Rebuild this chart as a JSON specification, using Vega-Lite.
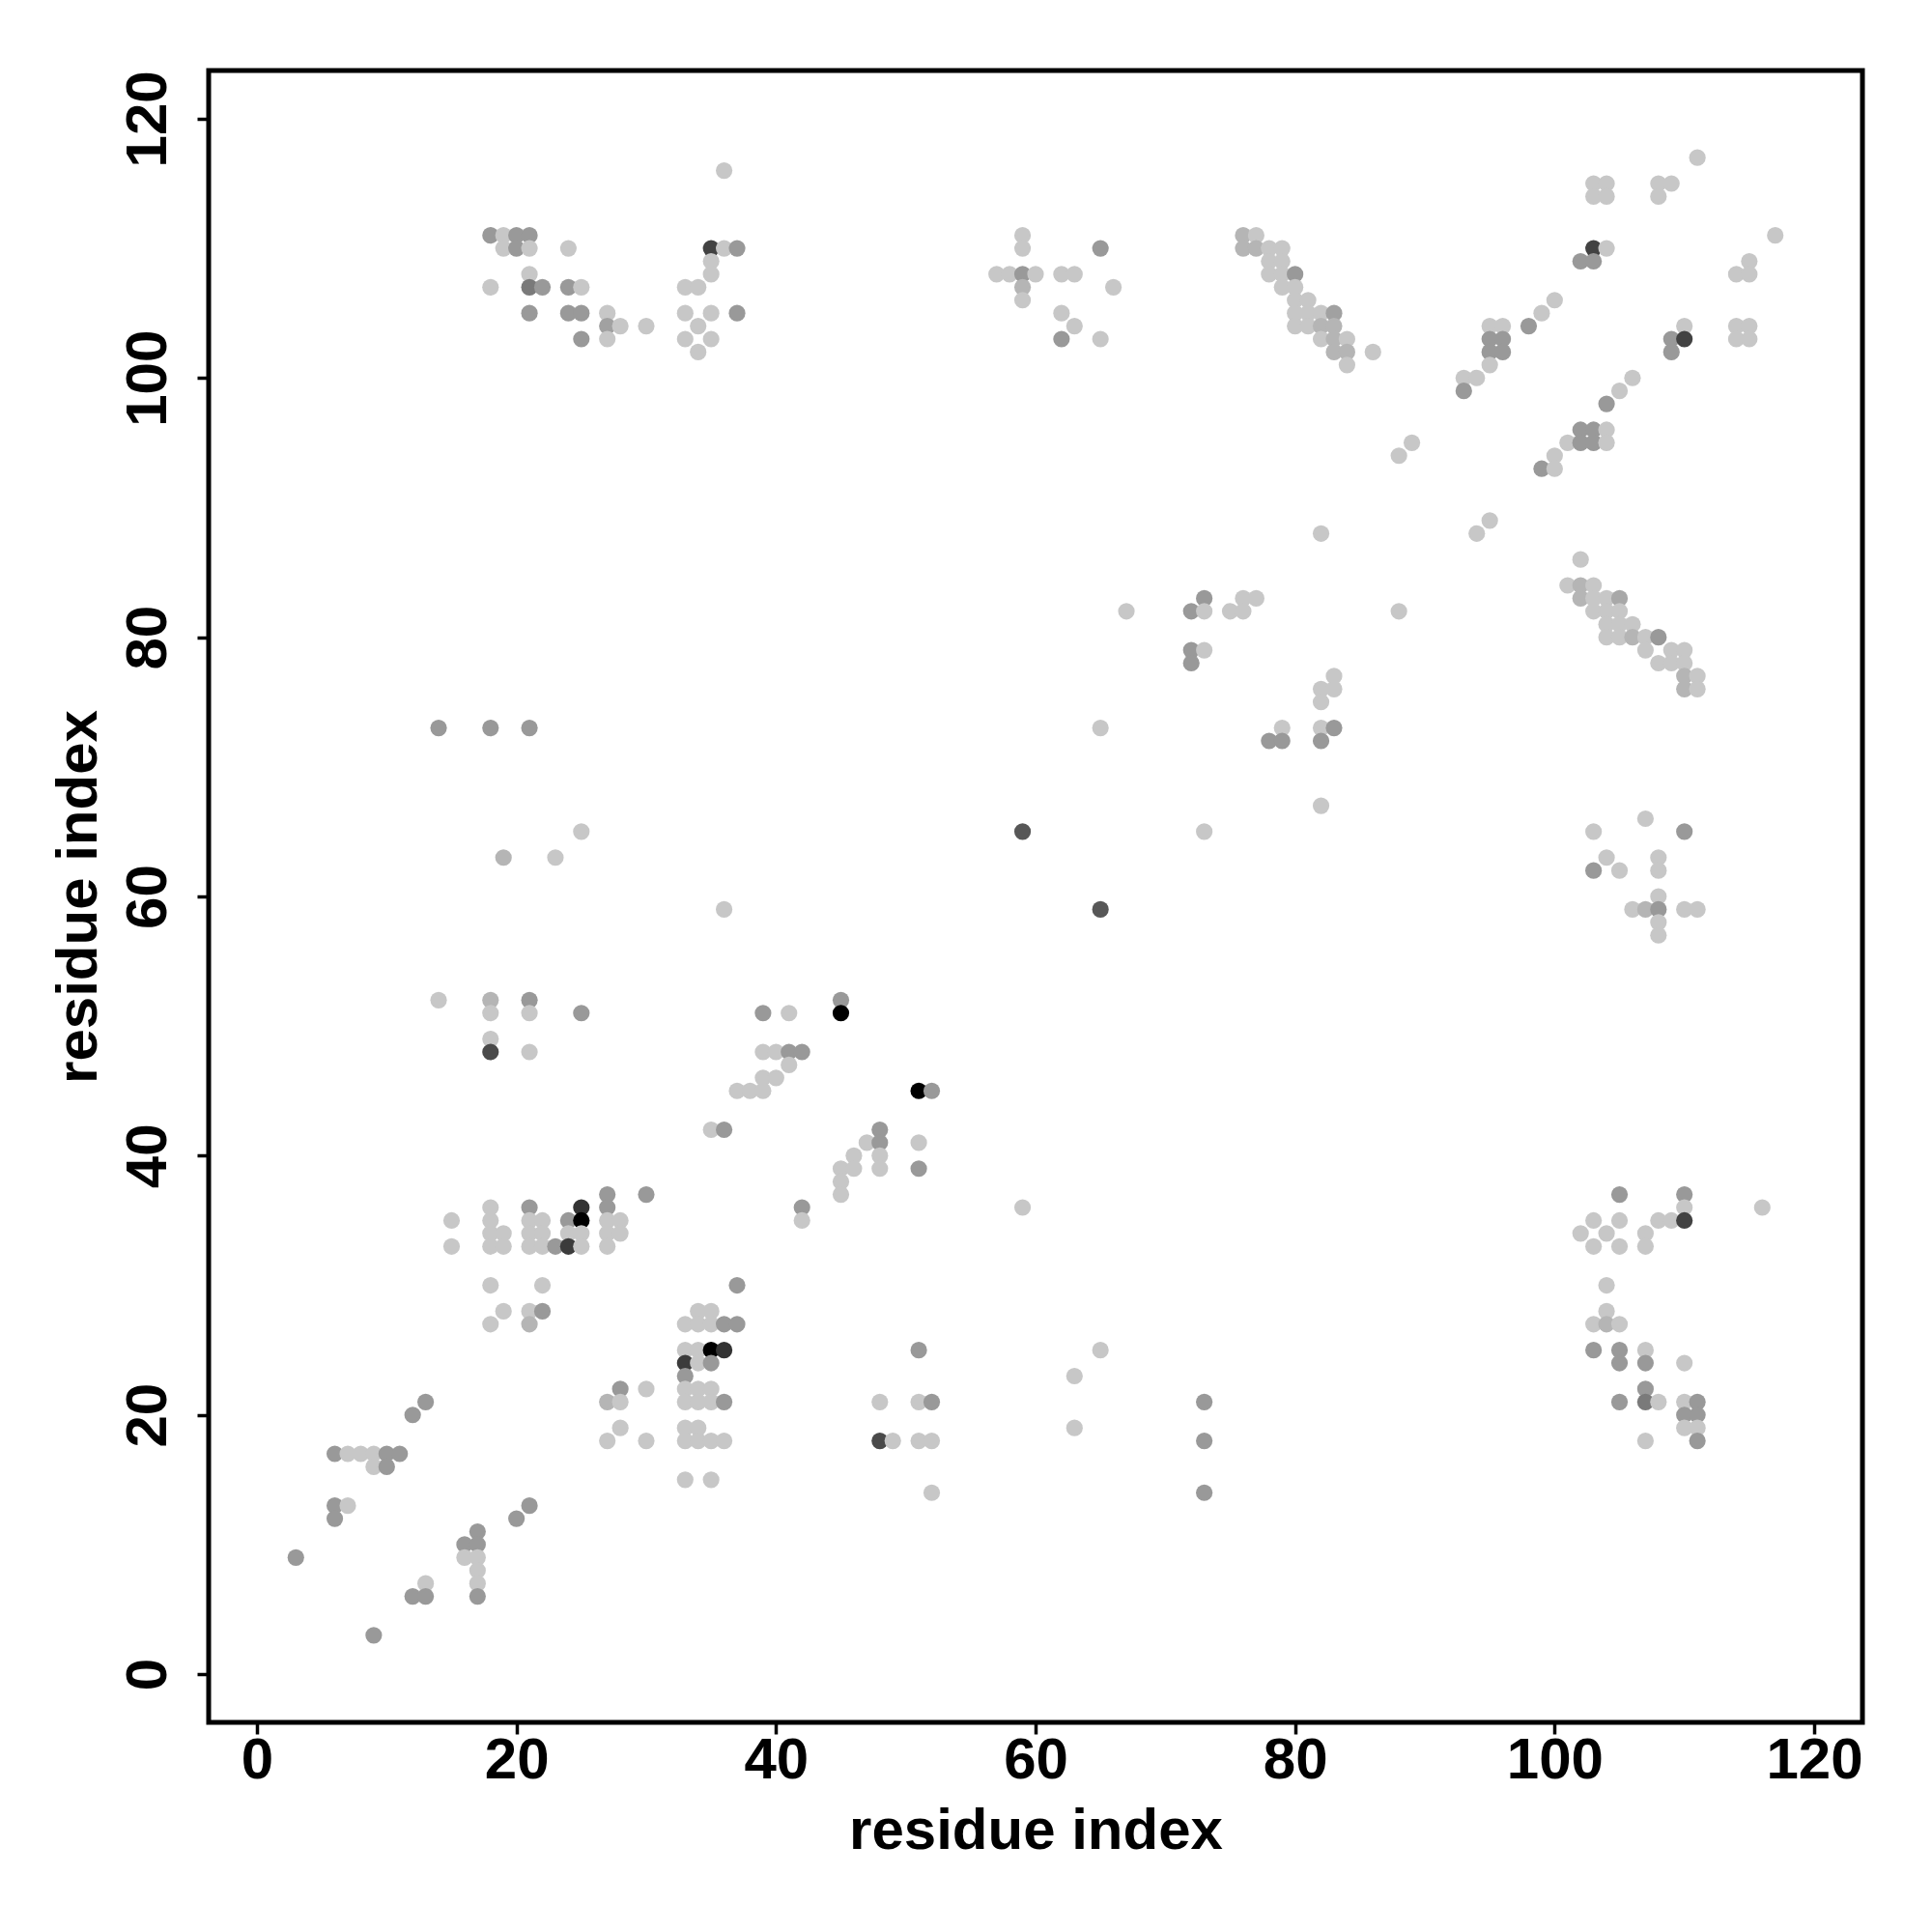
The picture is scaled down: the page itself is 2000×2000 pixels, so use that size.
{
  "$schema": "https://vega.github.io/schema/vega-lite/v6.json",
  "autosize": "none",
  "width": 1712,
  "height": 1710,
  "padding": {"left": 216, "top": 73, "right": 72, "bottom": 217},
  "background": "white",
  "config": {
    "view": {"stroke": "black", "strokeWidth": 5},
    "font": "Liberation Sans"
  },
  "data": {
    "values": [
      {"i":3,"j":9,"p":0.4},{"i":6,"j":17,"p":0.4},{"i":6,"j":13,"p":0.4},{"i":6,"j":12,"p":0.4},
      {"i":7,"j":17,"p":0.22},{"i":7,"j":13,"p":0.22},{"i":8,"j":17,"p":0.22},{"i":9,"j":17,"p":0.22},{"i":9,"j":16,"p":0.22},{"i":9,"j":3,"p":0.4},
      {"i":10,"j":17,"p":0.4},{"i":10,"j":16,"p":0.4},{"i":11,"j":17,"p":0.4},{"i":12,"j":20,"p":0.4},{"i":12,"j":6,"p":0.4},
      {"i":13,"j":21,"p":0.4},{"i":13,"j":7,"p":0.22},{"i":13,"j":6,"p":0.4},
      {"i":14,"j":73,"p":0.4},{"i":14,"j":52,"p":0.22},{"i":15,"j":35,"p":0.22},{"i":15,"j":33,"p":0.22},
      {"i":16,"j":10,"p":0.4},{"i":16,"j":9,"p":0.22},
      {"i":17,"j":11,"p":0.4},{"i":17,"j":10,"p":0.4},{"i":17,"j":9,"p":0.22},{"i":17,"j":8,"p":0.22},{"i":17,"j":7,"p":0.22},{"i":17,"j":6,"p":0.4},
      {"i":18,"j":111,"p":0.4},{"i":18,"j":107,"p":0.22},{"i":18,"j":73,"p":0.4},{"i":18,"j":52,"p":0.29},{"i":18,"j":51,"p":0.22},{"i":18,"j":49,"p":0.22},{"i":18,"j":48,"p":0.71},
      {"i":18,"j":36,"p":0.22},{"i":18,"j":35,"p":0.22},{"i":18,"j":34,"p":0.22},{"i":18,"j":33,"p":0.22},{"i":18,"j":30,"p":0.22},{"i":18,"j":27,"p":0.22},
      {"i":19,"j":111,"p":0.22},{"i":19,"j":110,"p":0.22},{"i":19,"j":63,"p":0.29},{"i":19,"j":34,"p":0.22},{"i":19,"j":33,"p":0.22},{"i":19,"j":28,"p":0.22},
      {"i":20,"j":111,"p":0.4},{"i":20,"j":110,"p":0.4},{"i":20,"j":12,"p":0.4},
      {"i":21,"j":111,"p":0.4},{"i":21,"j":110,"p":0.22},{"i":21,"j":108,"p":0.22},{"i":21,"j":107,"p":0.52},{"i":21,"j":105,"p":0.4},{"i":21,"j":73,"p":0.4},
      {"i":21,"j":52,"p":0.4},{"i":21,"j":51,"p":0.22},{"i":21,"j":48,"p":0.22},{"i":21,"j":36,"p":0.4},{"i":21,"j":35,"p":0.22},{"i":21,"j":34,"p":0.22},{"i":21,"j":33,"p":0.22},
      {"i":21,"j":28,"p":0.22},{"i":21,"j":27,"p":0.29},{"i":21,"j":13,"p":0.4},
      {"i":22,"j":107,"p":0.4},{"i":22,"j":35,"p":0.22},{"i":22,"j":34,"p":0.22},{"i":22,"j":33,"p":0.22},{"i":22,"j":30,"p":0.22},{"i":22,"j":28,"p":0.4},
      {"i":23,"j":63,"p":0.22},{"i":23,"j":33,"p":0.4},
      {"i":24,"j":110,"p":0.22},{"i":24,"j":107,"p":0.4},{"i":24,"j":105,"p":0.4},{"i":24,"j":35,"p":0.4},{"i":24,"j":34,"p":0.22},{"i":24,"j":33,"p":0.77},
      {"i":25,"j":107,"p":0.22},{"i":25,"j":105,"p":0.4},{"i":25,"j":103,"p":0.4},{"i":25,"j":65,"p":0.22},{"i":25,"j":51,"p":0.4},
      {"i":25,"j":36,"p":0.8},{"i":25,"j":35,"p":1.0},{"i":25,"j":34,"p":0.22},{"i":25,"j":33,"p":0.22},
      {"i":27,"j":105,"p":0.22},{"i":27,"j":104,"p":0.37},{"i":27,"j":103,"p":0.22},{"i":27,"j":37,"p":0.4},{"i":27,"j":36,"p":0.4},{"i":27,"j":35,"p":0.22},{"i":27,"j":34,"p":0.22},{"i":27,"j":33,"p":0.22},
      {"i":27,"j":21,"p":0.29},{"i":27,"j":18,"p":0.22},
      {"i":28,"j":104,"p":0.22},{"i":28,"j":35,"p":0.22},{"i":28,"j":34,"p":0.22},{"i":28,"j":22,"p":0.4},{"i":28,"j":21,"p":0.22},{"i":28,"j":19,"p":0.22},
      {"i":30,"j":104,"p":0.22},{"i":30,"j":37,"p":0.4},{"i":30,"j":22,"p":0.22},{"i":30,"j":18,"p":0.22},
      {"i":33,"j":107,"p":0.22},{"i":33,"j":105,"p":0.22},{"i":33,"j":103,"p":0.22},{"i":33,"j":27,"p":0.22},{"i":33,"j":25,"p":0.22},{"i":33,"j":24,"p":0.77},{"i":33,"j":23,"p":0.4},
      {"i":33,"j":22,"p":0.22},{"i":33,"j":21,"p":0.22},{"i":33,"j":19,"p":0.22},{"i":33,"j":18,"p":0.22},{"i":33,"j":15,"p":0.22},
      {"i":34,"j":107,"p":0.22},{"i":34,"j":104,"p":0.22},{"i":34,"j":102,"p":0.22},{"i":34,"j":28,"p":0.22},{"i":34,"j":27,"p":0.22},{"i":34,"j":25,"p":0.22},{"i":34,"j":24,"p":0.22},
      {"i":34,"j":22,"p":0.22},{"i":34,"j":21,"p":0.22},{"i":34,"j":19,"p":0.22},{"i":34,"j":18,"p":0.22},
      {"i":35,"j":110,"p":0.74},{"i":35,"j":109,"p":0.22},{"i":35,"j":108,"p":0.22},{"i":35,"j":105,"p":0.22},{"i":35,"j":103,"p":0.22},{"i":35,"j":42,"p":0.22},
      {"i":35,"j":28,"p":0.22},{"i":35,"j":27,"p":0.22},{"i":35,"j":25,"p":1.0},{"i":35,"j":24,"p":0.4},{"i":35,"j":22,"p":0.22},{"i":35,"j":21,"p":0.22},{"i":35,"j":18,"p":0.22},{"i":35,"j":15,"p":0.22},
      {"i":36,"j":116,"p":0.22},{"i":36,"j":110,"p":0.22},{"i":36,"j":59,"p":0.22},{"i":36,"j":42,"p":0.4},{"i":36,"j":27,"p":0.4},{"i":36,"j":25,"p":0.8},{"i":36,"j":21,"p":0.4},{"i":36,"j":18,"p":0.22},
      {"i":37,"j":110,"p":0.4},{"i":37,"j":105,"p":0.4},{"i":37,"j":45,"p":0.22},{"i":37,"j":30,"p":0.4},{"i":37,"j":27,"p":0.4},
      {"i":38,"j":45,"p":0.22},
      {"i":39,"j":51,"p":0.4},{"i":39,"j":48,"p":0.22},{"i":39,"j":46,"p":0.22},{"i":39,"j":45,"p":0.22},
      {"i":40,"j":48,"p":0.22},{"i":40,"j":46,"p":0.22},
      {"i":41,"j":51,"p":0.22},{"i":41,"j":48,"p":0.4},{"i":41,"j":47,"p":0.22},
      {"i":42,"j":48,"p":0.4},{"i":42,"j":36,"p":0.4},{"i":42,"j":35,"p":0.22},
      {"i":45,"j":52,"p":0.4},{"i":45,"j":51,"p":1.0},{"i":45,"j":39,"p":0.22},{"i":45,"j":38,"p":0.22},{"i":45,"j":37,"p":0.22},
      {"i":46,"j":40,"p":0.22},{"i":46,"j":39,"p":0.22},{"i":47,"j":41,"p":0.22},
      {"i":48,"j":42,"p":0.4},{"i":48,"j":41,"p":0.4},{"i":48,"j":40,"p":0.22},{"i":48,"j":39,"p":0.22},{"i":48,"j":21,"p":0.22},{"i":48,"j":18,"p":0.71},
      {"i":49,"j":18,"p":0.22},
      {"i":51,"j":45,"p":1.0},{"i":51,"j":41,"p":0.22},{"i":51,"j":39,"p":0.4},{"i":51,"j":25,"p":0.4},{"i":51,"j":21,"p":0.22},{"i":51,"j":18,"p":0.22},
      {"i":52,"j":45,"p":0.4},{"i":52,"j":21,"p":0.4},{"i":52,"j":18,"p":0.22},{"i":52,"j":14,"p":0.22},
      {"i":57,"j":108,"p":0.22},{"i":58,"j":108,"p":0.22},
      {"i":59,"j":111,"p":0.22},{"i":59,"j":110,"p":0.22},{"i":59,"j":108,"p":0.4},{"i":59,"j":107,"p":0.29},{"i":59,"j":106,"p":0.22},{"i":59,"j":65,"p":0.66},{"i":59,"j":36,"p":0.22},
      {"i":60,"j":108,"p":0.22},
      {"i":62,"j":108,"p":0.22},{"i":62,"j":105,"p":0.22},{"i":62,"j":103,"p":0.4},
      {"i":63,"j":108,"p":0.22},{"i":63,"j":104,"p":0.22},{"i":63,"j":23,"p":0.22},{"i":63,"j":19,"p":0.22},
      {"i":65,"j":110,"p":0.4},{"i":65,"j":103,"p":0.22},{"i":65,"j":73,"p":0.22},{"i":65,"j":59,"p":0.66},{"i":65,"j":25,"p":0.22},
      {"i":66,"j":107,"p":0.22},{"i":67,"j":82,"p":0.22},
      {"i":72,"j":82,"p":0.4},{"i":72,"j":79,"p":0.4},{"i":72,"j":78,"p":0.4},
      {"i":73,"j":83,"p":0.4},{"i":73,"j":82,"p":0.22},{"i":73,"j":79,"p":0.22},{"i":73,"j":65,"p":0.22},{"i":73,"j":21,"p":0.4},{"i":73,"j":18,"p":0.4},{"i":73,"j":14,"p":0.4},
      {"i":75,"j":82,"p":0.22},
      {"i":76,"j":111,"p":0.29},{"i":76,"j":110,"p":0.29},{"i":76,"j":83,"p":0.22},{"i":76,"j":82,"p":0.22},
      {"i":77,"j":111,"p":0.22},{"i":77,"j":110,"p":0.29},{"i":77,"j":83,"p":0.22},
      {"i":78,"j":110,"p":0.22},{"i":78,"j":109,"p":0.22},{"i":78,"j":108,"p":0.22},{"i":78,"j":72,"p":0.4},
      {"i":79,"j":110,"p":0.22},{"i":79,"j":109,"p":0.22},{"i":79,"j":108,"p":0.22},{"i":79,"j":107,"p":0.22},{"i":79,"j":73,"p":0.22},{"i":79,"j":72,"p":0.4},
      {"i":80,"j":108,"p":0.4},{"i":80,"j":107,"p":0.22},{"i":80,"j":106,"p":0.22},{"i":80,"j":105,"p":0.22},{"i":80,"j":104,"p":0.22},
      {"i":81,"j":106,"p":0.22},{"i":81,"j":105,"p":0.22},{"i":81,"j":104,"p":0.22},
      {"i":82,"j":105,"p":0.22},{"i":82,"j":104,"p":0.29},{"i":82,"j":103,"p":0.22},{"i":82,"j":88,"p":0.22},{"i":82,"j":76,"p":0.22},{"i":82,"j":75,"p":0.22},
      {"i":82,"j":73,"p":0.22},{"i":82,"j":72,"p":0.4},{"i":82,"j":67,"p":0.22},
      {"i":83,"j":105,"p":0.37},{"i":83,"j":104,"p":0.29},{"i":83,"j":103,"p":0.29},{"i":83,"j":102,"p":0.29},{"i":83,"j":77,"p":0.22},{"i":83,"j":76,"p":0.22},{"i":83,"j":73,"p":0.4},
      {"i":84,"j":103,"p":0.22},{"i":84,"j":102,"p":0.29},{"i":84,"j":101,"p":0.22},
      {"i":86,"j":102,"p":0.22},{"i":88,"j":94,"p":0.22},{"i":88,"j":82,"p":0.22},{"i":89,"j":95,"p":0.22},
      {"i":93,"j":100,"p":0.22},{"i":93,"j":99,"p":0.4},{"i":94,"j":100,"p":0.22},{"i":94,"j":88,"p":0.22},
      {"i":95,"j":104,"p":0.22},{"i":95,"j":103,"p":0.4},{"i":95,"j":102,"p":0.4},{"i":95,"j":101,"p":0.22},{"i":95,"j":89,"p":0.22},
      {"i":96,"j":104,"p":0.22},{"i":96,"j":103,"p":0.4},{"i":96,"j":102,"p":0.4},
      {"i":98,"j":104,"p":0.4},{"i":99,"j":105,"p":0.22},{"i":99,"j":93,"p":0.4},
      {"i":100,"j":106,"p":0.22},{"i":100,"j":94,"p":0.22},{"i":100,"j":93,"p":0.22},
      {"i":101,"j":95,"p":0.22},{"i":101,"j":84,"p":0.22},
      {"i":102,"j":109,"p":0.4},{"i":102,"j":96,"p":0.4},{"i":102,"j":95,"p":0.4},{"i":102,"j":86,"p":0.22},{"i":102,"j":84,"p":0.29},{"i":102,"j":83,"p":0.29},{"i":102,"j":34,"p":0.22},
      {"i":103,"j":115,"p":0.22},{"i":103,"j":114,"p":0.22},{"i":103,"j":110,"p":0.74},{"i":103,"j":109,"p":0.4},{"i":103,"j":96,"p":0.4},{"i":103,"j":95,"p":0.4},
      {"i":103,"j":84,"p":0.22},{"i":103,"j":83,"p":0.22},{"i":103,"j":82,"p":0.22},{"i":103,"j":65,"p":0.22},{"i":103,"j":62,"p":0.4},
      {"i":103,"j":35,"p":0.22},{"i":103,"j":33,"p":0.22},{"i":103,"j":27,"p":0.22},{"i":103,"j":25,"p":0.4},
      {"i":104,"j":115,"p":0.22},{"i":104,"j":114,"p":0.22},{"i":104,"j":110,"p":0.22},{"i":104,"j":98,"p":0.4},{"i":104,"j":96,"p":0.22},{"i":104,"j":95,"p":0.22},
      {"i":104,"j":83,"p":0.22},{"i":104,"j":82,"p":0.22},{"i":104,"j":81,"p":0.22},{"i":104,"j":80,"p":0.22},{"i":104,"j":63,"p":0.22},
      {"i":104,"j":34,"p":0.22},{"i":104,"j":30,"p":0.22},{"i":104,"j":28,"p":0.22},{"i":104,"j":27,"p":0.29},
      {"i":105,"j":99,"p":0.22},{"i":105,"j":83,"p":0.34},{"i":105,"j":82,"p":0.22},{"i":105,"j":81,"p":0.22},{"i":105,"j":80,"p":0.22},{"i":105,"j":62,"p":0.22},
      {"i":105,"j":37,"p":0.4},{"i":105,"j":35,"p":0.22},{"i":105,"j":33,"p":0.22},{"i":105,"j":27,"p":0.22},{"i":105,"j":25,"p":0.4},{"i":105,"j":24,"p":0.4},{"i":105,"j":21,"p":0.4},
      {"i":106,"j":100,"p":0.22},{"i":106,"j":81,"p":0.22},{"i":106,"j":80,"p":0.29},{"i":106,"j":59,"p":0.22},
      {"i":107,"j":80,"p":0.22},{"i":107,"j":79,"p":0.22},{"i":107,"j":66,"p":0.22},{"i":107,"j":59,"p":0.29},{"i":107,"j":34,"p":0.22},{"i":107,"j":33,"p":0.22},
      {"i":107,"j":25,"p":0.22},{"i":107,"j":24,"p":0.4},{"i":107,"j":22,"p":0.4},{"i":107,"j":21,"p":0.52},{"i":107,"j":18,"p":0.22},
      {"i":108,"j":115,"p":0.22},{"i":108,"j":114,"p":0.22},{"i":108,"j":80,"p":0.4},{"i":108,"j":78,"p":0.22},{"i":108,"j":63,"p":0.22},{"i":108,"j":62,"p":0.22},
      {"i":108,"j":60,"p":0.22},{"i":108,"j":59,"p":0.4},{"i":108,"j":58,"p":0.22},{"i":108,"j":57,"p":0.22},{"i":108,"j":35,"p":0.22},{"i":108,"j":21,"p":0.22},
      {"i":109,"j":115,"p":0.22},{"i":109,"j":103,"p":0.4},{"i":109,"j":102,"p":0.4},{"i":109,"j":79,"p":0.22},{"i":109,"j":78,"p":0.22},{"i":109,"j":35,"p":0.22},
      {"i":110,"j":104,"p":0.22},{"i":110,"j":103,"p":0.74},{"i":110,"j":79,"p":0.22},{"i":110,"j":78,"p":0.22},{"i":110,"j":77,"p":0.29},{"i":110,"j":76,"p":0.29},
      {"i":110,"j":65,"p":0.4},{"i":110,"j":59,"p":0.22},{"i":110,"j":37,"p":0.4},{"i":110,"j":36,"p":0.22},{"i":110,"j":35,"p":0.74},{"i":110,"j":24,"p":0.22},
      {"i":110,"j":21,"p":0.22},{"i":110,"j":20,"p":0.4},{"i":110,"j":19,"p":0.22},
      {"i":111,"j":117,"p":0.22},{"i":111,"j":77,"p":0.22},{"i":111,"j":76,"p":0.22},{"i":111,"j":59,"p":0.22},{"i":111,"j":21,"p":0.4},{"i":111,"j":20,"p":0.4},{"i":111,"j":19,"p":0.22},{"i":111,"j":18,"p":0.4},
      {"i":114,"j":108,"p":0.22},{"i":114,"j":104,"p":0.22},{"i":114,"j":103,"p":0.22},
      {"i":115,"j":109,"p":0.22},{"i":115,"j":108,"p":0.22},{"i":115,"j":104,"p":0.22},{"i":115,"j":103,"p":0.22},
      {"i":116,"j":36,"p":0.22},{"i":117,"j":111,"p":0.22}
    ]
  },
  "mark": {"type": "circle", "size": 295, "opacity": 1},
  "encoding": {
    "x": {
      "field": "i", "type": "quantitative",
      "scale": {"domain": [-3.72, 123.72], "nice": false, "zero": false},
      "axis": {
        "values": [0, 20, 40, 60, 80, 100, 120],
        "domain": false, "grid": false,
        "tickSize": 12, "tickWidth": 3.5, "tickColor": "black",
        "labelFont": "Liberation Sans", "labelFontSize": 60, "labelFontWeight": "bold", "labelColor": "black",
        "labelBaseline": "alphabetic", "labelAlign": "center", "labelPadding": 45,
        "labelFlush": false, "labelOverlap": false,
        "title": "residue index",
        "titleFont": "Liberation Sans", "titleFontSize": 60, "titleFontWeight": "bold", "titleColor": "black",
        "titleX": 856, "titleY": 130, "titleBaseline": "alphabetic", "titleAlign": "center", "titleAngle": 0
      }
    },
    "y": {
      "field": "j", "type": "quantitative",
      "scale": {"domain": [-3.72, 123.72], "nice": false, "zero": false},
      "axis": {
        "values": [0, 20, 40, 60, 80, 100, 120],
        "domain": false, "grid": false,
        "tickSize": 12, "tickWidth": 3.5, "tickColor": "black",
        "labelFont": "Liberation Sans", "labelFontSize": 60, "labelFontWeight": "bold", "labelColor": "black",
        "labelAngle": 270, "labelBaseline": "alphabetic", "labelAlign": "center", "labelPadding": 33,
        "labelFlush": false, "labelOverlap": false,
        "title": "residue index",
        "titleFont": "Liberation Sans", "titleFontSize": 60, "titleFontWeight": "bold", "titleColor": "black",
        "titleX": -117, "titleY": 855, "titleBaseline": "alphabetic", "titleAlign": "center", "titleAngle": 270
      }
    },
    "color": {
      "field": "p", "type": "quantitative",
      "scale": {"domain": [0, 1], "range": ["#ffffff", "#000000"], "interpolate": "rgb"},
      "legend": null
    }
  }
}
